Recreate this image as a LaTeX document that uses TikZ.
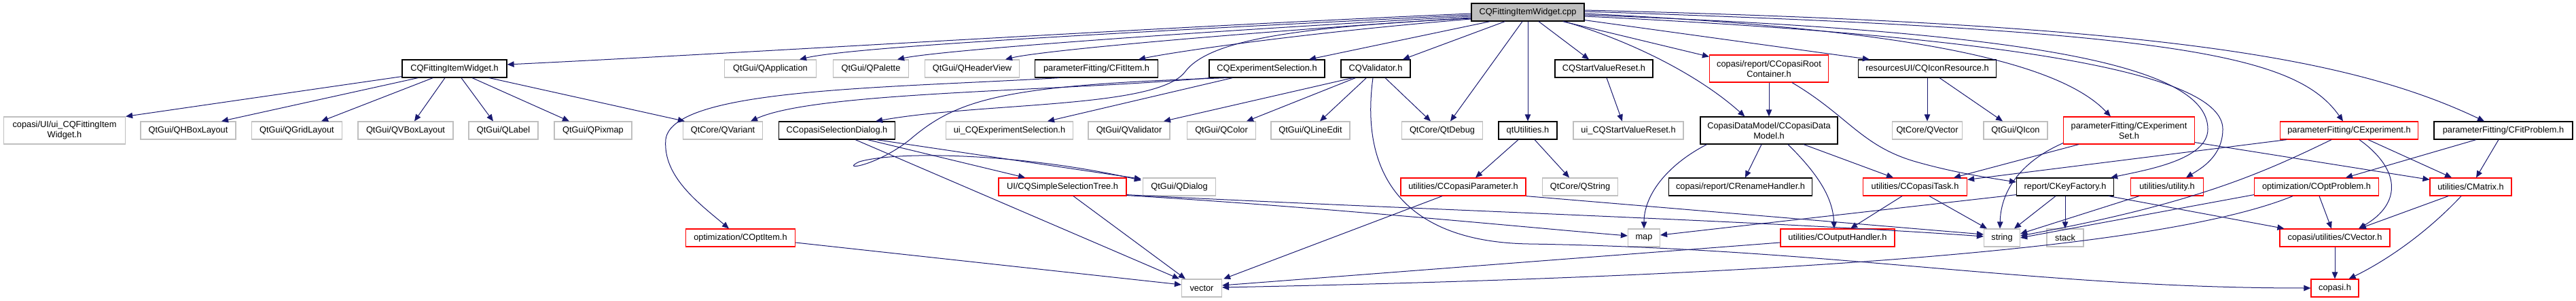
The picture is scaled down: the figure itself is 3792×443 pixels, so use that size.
\documentclass[tikz,border=0pt]{standalone}
\usepackage{fontspec}
\setmainfont{Liberation Sans}
\usetikzlibrary{arrows.meta,calc}
\definecolor{edgec}{HTML}{191970}
\definecolor{extc}{HTML}{BFBFBF}
\definecolor{redc}{HTML}{FF0000}
\definecolor{cppfill}{HTML}{BFBFBF}
\tikzset{
 nbox/.style={rectangle, draw, line width=1.2pt, minimum height=26pt, inner sep=0pt, align=center, font=\fontsize{12.8}{15}\selectfont},
 blkbox/.style={nbox, draw=black},
 extbox/.style={nbox, draw=extc},
 trbox/.style={nbox, draw=redc},
 srcbox/.style={nbox, draw=black, fill=cppfill},
 dep/.style={draw=edgec, line width=1.0pt, -{Triangle[length=10pt,width=8.5pt]}}
}
\begin{document}
\begin{tikzpicture}[x=1pt,y=-1pt]
\useasboundingbox (0,0) rectangle (3792,443);
% row 0
\node[srcbox, minimum width=166pt] (cpp) at (2249,18) {CQFittingItemWidget.cpp};
% row 1
\node[blkbox, minimum width=154pt] (fiw) at (669,101) {CQFittingItemWidget.h};
\node[extbox, minimum width=135pt] (app) at (1134,101) {QtGui/QApplication};
\node[extbox, minimum width=111pt] (palette) at (1282,101) {QtGui/QPalette};
\node[extbox, minimum width=139pt] (header) at (1431,101) {QtGui/QHeaderView};
\node[blkbox, minimum width=181pt] (fititem) at (1614,101) {parameterFitting/CFitItem.h};
\node[blkbox, minimum width=170pt] (expsel) at (1865,101) {CQExperimentSelection.h};
\node[blkbox, minimum width=102pt] (cqvalidator) at (2025,101) {CQValidator.h};
\node[blkbox, minimum width=144pt] (svr) at (2361,101) {CQStartValueReset.h};
\node[trbox, minimum width=175pt, minimum height=40pt] (root) at (2604,101) {copasi/report/CCopasiRoot\\Container.h};
\node[blkbox, minimum width=203pt] (icon) at (2837,101) {resourcesUI/CQIconResource.h};
% row 2
\node[extbox, minimum width=179pt, minimum height=40pt] (uifiw) at (95,192) {copasi/UI/ui\_CQFittingItem\\Widget.h};
\node[extbox, minimum width=140pt] (hbox) at (277,192) {QtGui/QHBoxLayout};
\node[extbox, minimum width=133pt] (grid) at (437,192) {QtGui/QGridLayout};
\node[extbox, minimum width=140pt] (vbox) at (597,192) {QtGui/QVBoxLayout};
\node[extbox, minimum width=102pt] (label) at (741,192) {QtGui/QLabel};
\node[extbox, minimum width=114pt] (pixmap) at (873,192) {QtGui/QPixmap};
\node[extbox, minimum width=117pt] (variant) at (1064,192) {QtCore/QVariant};
\node[blkbox, minimum width=171pt] (csd) at (1232,192) {CCopasiSelectionDialog.h};
\node[extbox, minimum width=187pt] (uiexpsel) at (1486,192) {ui\_CQExperimentSelection.h};
\node[extbox, minimum width=120pt] (qvalidator) at (1662,192) {QtGui/QValidator};
\node[extbox, minimum width=101pt] (color) at (1798,192) {QtGui/QColor};
\node[extbox, minimum width=116pt] (lineedit) at (1929,192) {QtGui/QLineEdit};
\node[extbox, minimum width=119pt] (qtdebug) at (2123,192) {QtCore/QtDebug};
\node[blkbox, minimum width=86pt] (qtutil) at (2249,192) {qtUtilities.h};
\node[extbox, minimum width=162pt] (uisvr) at (2397,192) {ui\_CQStartValueReset.h};
\node[blkbox, minimum width=202pt, minimum height=40pt] (datamodel) at (2604,192) {CopasiDataModel/CCopasiData\\Model.h};
\node[extbox, minimum width=103pt] (qvector) at (2837,192) {QtCore/QVector};
\node[extbox, minimum width=94pt] (qicon) at (2967,192) {QtGui/QIcon};
\node[trbox, minimum width=193pt, minimum height=40pt] (expset) at (3134,192) {parameterFitting/CExperiment\\Set.h};
\node[trbox, minimum width=203pt] (experiment) at (3458,192) {parameterFitting/CExperiment.h};
\node[blkbox, minimum width=204pt] (fitproblem) at (3685,192) {parameterFitting/CFitProblem.h};
% row 3
\node[trbox, minimum width=188pt] (sst) at (1564,275) {UI/CQSimpleSelectionTree.h};
\node[extbox, minimum width=107pt] (dialog) at (1736,275) {QtGui/QDialog};
\node[trbox, minimum width=184pt] (param) at (2154,275) {utilities/CCopasiParameter.h};
\node[extbox, minimum width=111pt] (qstring) at (2326,275) {QtCore/QString};
\node[blkbox, minimum width=211pt] (rename) at (2562,275) {copasi/report/CRenameHandler.h};
\node[trbox, minimum width=153pt] (task) at (2819,275) {utilities/CCopasiTask.h};
\node[blkbox, minimum width=143pt] (keyf) at (3040,275) {report/CKeyFactory.h};
\node[trbox, minimum width=107pt] (utility) at (3190,275) {utilities/utility.h};
\node[trbox, minimum width=183pt] (optproblem) at (3410,275) {optimization/COptProblem.h};
\node[trbox, minimum width=120pt] (cmatrix) at (3637,275) {utilities/CMatrix.h};
% row 4
\node[trbox, minimum width=161pt] (optitem) at (1090,350) {optimization/COptItem.h};
\node[extbox, minimum width=47pt] (map) at (2420,350) {map};
\node[trbox, minimum width=168pt] (outh) at (2705,350) {utilities/COutputHandler.h};
\node[extbox, minimum width=53pt] (string) at (2947,350) {string};
\node[extbox, minimum width=54pt] (stack) at (3040,350) {stack};
\node[trbox, minimum width=162pt] (cvector) at (3437,350) {copasi/utilities/CVector.h};
% row 5
\node[extbox, minimum width=59pt] (vector) at (1769,424) {vector};
\node[trbox, minimum width=70pt] (copasih) at (3437,424) {copasi.h};

% ---- edges from cpp
\draw[dep] ($(cpp.west)+(0,2)$) .. controls (1700,40) and (1100,78) .. ($(fiw.east)+(0,-6)$);
\draw[dep] ($(cpp.west)+(0,4)$) .. controls (1600,50) and (1250,70) .. ($(app.north)+(43,0)$);
\draw[dep] ($(cpp.west)+(0,6)$) .. controls (1700,50) and (1380,75) .. ($(palette.north)+(39,0)$);
\draw[dep] ($(cpp.west)+(0,8)$) .. controls (1800,50) and (1530,75) .. ($(header.north)+(49,0)$);
\draw[dep] ($(cpp.west)+(0,10)$) .. controls (1900,50) and (1720,78) .. ($(fititem.north)+(62,0)$);
\draw[dep] ($(cpp.west)+(0,9)$) .. controls (1900,40) and (1780,60) .. (1745,105) .. controls (1705,160) and (1450,150) .. ($(csd.north)+(57,0)$);
\draw[dep] ($(cpp.south west)+(28,0)$) -- ($(expsel.north)+(62,0)$);
\draw[dep] ($(cpp.south west)+(50,0)$) -- ($(cqvalidator.north)+(40,0)$);
\draw[dep] ($(cpp.south)+(-8,0)$) -- ($(qtdebug.north)+(12,0)$);
\draw[dep] (cpp.south) -- (qtutil.north);
\draw[dep] ($(cpp.south)+(16,0)$) -- ($(svr.north)+(-22,0)$);
\draw[dep] ($(cpp.south east)+(-32,0)$) -- ($(root.north west)+(0,3)$);
\draw[dep] ($(cpp.south east)+(0,-2)$) -- ($(icon.north west)+(17,0)$);
\draw[dep] ($(cpp.south east)+(-30,0)$) .. controls (2400,60) and (2500,110) .. ($(datamodel.north west)+(66,0)$);
\draw[dep] ($(cpp.east)+(0,2)$) .. controls (2750,40) and (3020,80) .. ($(expset.north west)+(70,0)$);
\draw[dep] ($(cpp.east)+(0,-1)$) .. controls (3200,45) and (3380,80) .. ($(experiment.north)+(-9,0)$);
\draw[dep] ($(cpp.east)+(0,-3)$) .. controls (3150,35) and (3450,80) .. ($(fitproblem.north)+(-28,0)$);
\draw[dep] ($(cpp.east)+(0,4)$) .. controls (2950,45) and (3250,90) .. (3250,190) .. controls (3250,235) and (3160,250) .. ($(keyf.north east)+(-5,0)$);
\draw[dep] ($(cpp.east)+(0,6)$) .. controls (2980,55) and (3272,110) .. (3272,190) .. controls (3272,230) and (3240,248) .. ($(utility.north)+(28,0)$);

% ---- CQFittingItemWidget.h
\draw[dep] ($(fiw.south west)+(0,-2)$) -- (uifiw.north east);
\draw[dep] ($(fiw.south west)+(24,0)$) -- ($(hbox.north)+(49,0)$);
\draw[dep] ($(fiw.south west)+(46,0)$) -- ($(grid.north)+(36,0)$);
\draw[dep] ($(fiw.south)+(-14,0)$) -- ($(vbox.north)+(13,0)$);
\draw[dep] ($(fiw.south)+(10,0)$) -- ($(label.north)+(-15,0)$);
\draw[dep] ($(fiw.south)+(26,0)$) -- ($(pixmap.north)+(-35,0)$);
\draw[dep] ($(fiw.south)+(51,0)$) -- ($(variant.north west)+(3,0)$);

% ---- CCopasiSelectionDialog.h
\draw[dep] ($(csd.south)+(27,0)$) -- ($(vector.north west)+(-3,0)$);
\draw[dep] ($(csd.south)+(45,0)$) -- ($(sst.north)+(-55,0)$);
\draw[dep] ($(csd.south)+(58,0)$) -- ($(dialog.north west)+(-2,2)$);

% ---- CQExperimentSelection.h
\draw[dep] ($(expsel.south west)+(35,0)$) -- ($(uiexpsel.north)+(56,0)$);
\draw[dep] ($(expsel.south west)+(2,0)$) .. controls (1550,135) and (1200,135) .. ($(variant.north)+(41,0)$);
\draw[dep] ($(expsel.south west)+(27,0)$) .. controls (1480,125) and (1410,145) .. (1340,205) .. controls (1290,245) and (1235,252) .. (1265,238) .. controls (1320,222) and (1500,225) .. ($(dialog.north west)+(-2,4)$);

% ---- CQValidator.h
\draw[dep] ($(cqvalidator.south west)+(18,0)$) -- ($(qvalidator.north)+(51,0)$);
\draw[dep] ($(cqvalidator.south west)+(22,0)$) -- ($(color.north)+(37,0)$);
\draw[dep] ($(cqvalidator.south west)+(38,0)$) -- ($(lineedit.north)+(14,0)$);
\draw[dep] ($(cqvalidator.south)+(14,0)$) -- ($(qtdebug.north)+(-17,0)$);
\draw[dep] ($(cqvalidator.south)+(-4,0)$) .. controls (2000,270) and (2080,356) .. (2250,359) .. controls (2700,366) and (3000,424) .. (copasih.west);

% ---- others
\draw[dep] ($(qtutil.south)+(-14,0)$) -- ($(param.north)+(18,0)$);
\draw[dep] ($(qtutil.south)+(10,0)$) -- ($(qstring.north)+(-16,0)$);
\draw[dep] ($(svr.south)+(4,0)$) -- ($(uisvr.north)+(-9,0)$);
\draw[dep] ($(param.south)+(-31,0)$) -- ($(vector.north east)+(2,0)$);
\draw[dep] (param.south east) -- ($(string.west)+(0,-5)$);
\draw[dep] ($(sst.south)+(16,0)$) -- ($(vector.north west)+(6,0)$);
\draw[dep] ($(sst.south east)+(0,-1)$) .. controls (1950,305) and (2250,335) .. ($(map.west)+(0,-3)$);
\draw[dep] ($(sst.south east)+(0,-2)$) .. controls (2000,305) and (2600,325) .. ($(string.west)+(0,-2)$);
\draw[dep] ($(optitem.east)+(0,7)$) -- ($(vector.west)+(0,-5)$);
\draw[dep] ($(fititem.south west)+(36,0)$) .. controls (1300,130) and (990,130) .. (980,205) .. controls (975,260) and (1030,300) .. ($(optitem.north)+(-17,0)$);
\draw[dep] (root.south) -- (datamodel.north);
\draw[dep] ($(root.south)+(34,0)$) .. controls (2720,170) and (2740,215) .. (2820,238) .. controls (2880,255) and (2930,262) .. ($(keyf.west)+(0,-7)$);
\draw[dep] (icon.south) -- (icon.south |- qvector.north);
\draw[dep] ($(icon.south)+(18,0)$) -- ($(qicon.north)+(-19,0)$);
\draw[dep] ($(datamodel.south west)+(10,0)$) .. controls (2450,245) and (2420,290) .. (map.north);
\draw[dep] ($(datamodel.south)+(-11,0)$) -- ($(rename.north)+(7,0)$);
\draw[dep] ($(datamodel.south)+(28,0)$) .. controls (2675,255) and (2698,290) .. ($(outh.north)+(-5,0)$);
\draw[dep] ($(datamodel.south)+(51,0)$) -- ($(task.north)+(-32,0)$);
\draw[dep] ($(expset.south west)+(0,-2)$) .. controls (2970,240) and (2945,285) .. ($(string.north)+(-3,0)$);
\draw[dep] ($(expset.south west)+(23,0)$) -- ($(task.north east)+(-20,0)$);
\draw[dep] ($(expset.south east)+(0,-3)$) -- ($(cmatrix.north west)+(0,3)$);
\draw[dep] ($(task.south)+(-19,0)$) -- ($(outh.north)+(19,0)$);
\draw[dep] ($(task.south)+(21,0)$) -- ($(string.north west)+(5,0)$);
\draw[dep] ($(keyf.south west)+(0,-2)$) -- ($(map.east)+(0,-4)$);
\draw[dep] ($(keyf.south)+(-14,0)$) -- ($(string.north)+(18,0)$);
\draw[dep] (keyf.south) -- (keyf.south |- stack.north);
\draw[dep] ($(keyf.south east)+(-8,0)$) -- ($(cvector.north west)+(7,0)$);
\draw[dep] ($(utility.south west)+(13,0)$) -- ($(string.east)+(0,-6)$);
\draw[dep] ($(outh.west)+(0,7)$) -- ($(vector.east)+(0,-4)$);
\draw[dep] ($(experiment.south west)+(10,0)$) -- ($(task.north east)+(0,3)$);
\draw[dep] ($(experiment.south)+(-26,0)$) .. controls (3330,255) and (3230,300) .. ($(string.east)+(0,-3)$);
\draw[dep] ($(experiment.south)+(15,0)$) .. controls (3535,250) and (3535,300) .. ($(cvector.north)+(35,0)$);
\draw[dep] ($(experiment.south)+(28,0)$) -- ($(cmatrix.north)+(-28,0)$);
\draw[dep] ($(optproblem.south west)+(0,-2)$) -- (string.east);
\draw[dep] ($(optproblem.south)+(-35,0)$) .. controls (3200,360) and (2700,405) .. ($(vector.east)+(0,-1)$);
\draw[dep] ($(optproblem.south)+(4,0)$) -- ($(cvector.north)+(-5,0)$);
\draw[dep] ($(fitproblem.south)+(-40,0)$) -- ($(optproblem.north)+(43,0)$);
\draw[dep] ($(fitproblem.south)+(-7,0)$) -- ($(cmatrix.north)+(8,0)$);
\draw[dep] ($(cmatrix.south)+(-33,0)$) -- ($(cvector.north)+(36,0)$);
\draw[dep] ($(cmatrix.south)+(-14,0)$) .. controls (3570,345) and (3510,385) .. ($(copasih.north east)+(-15,0)$);
\draw[dep] (cvector.south) -- (copasih.north);
\end{tikzpicture}
\end{document}
